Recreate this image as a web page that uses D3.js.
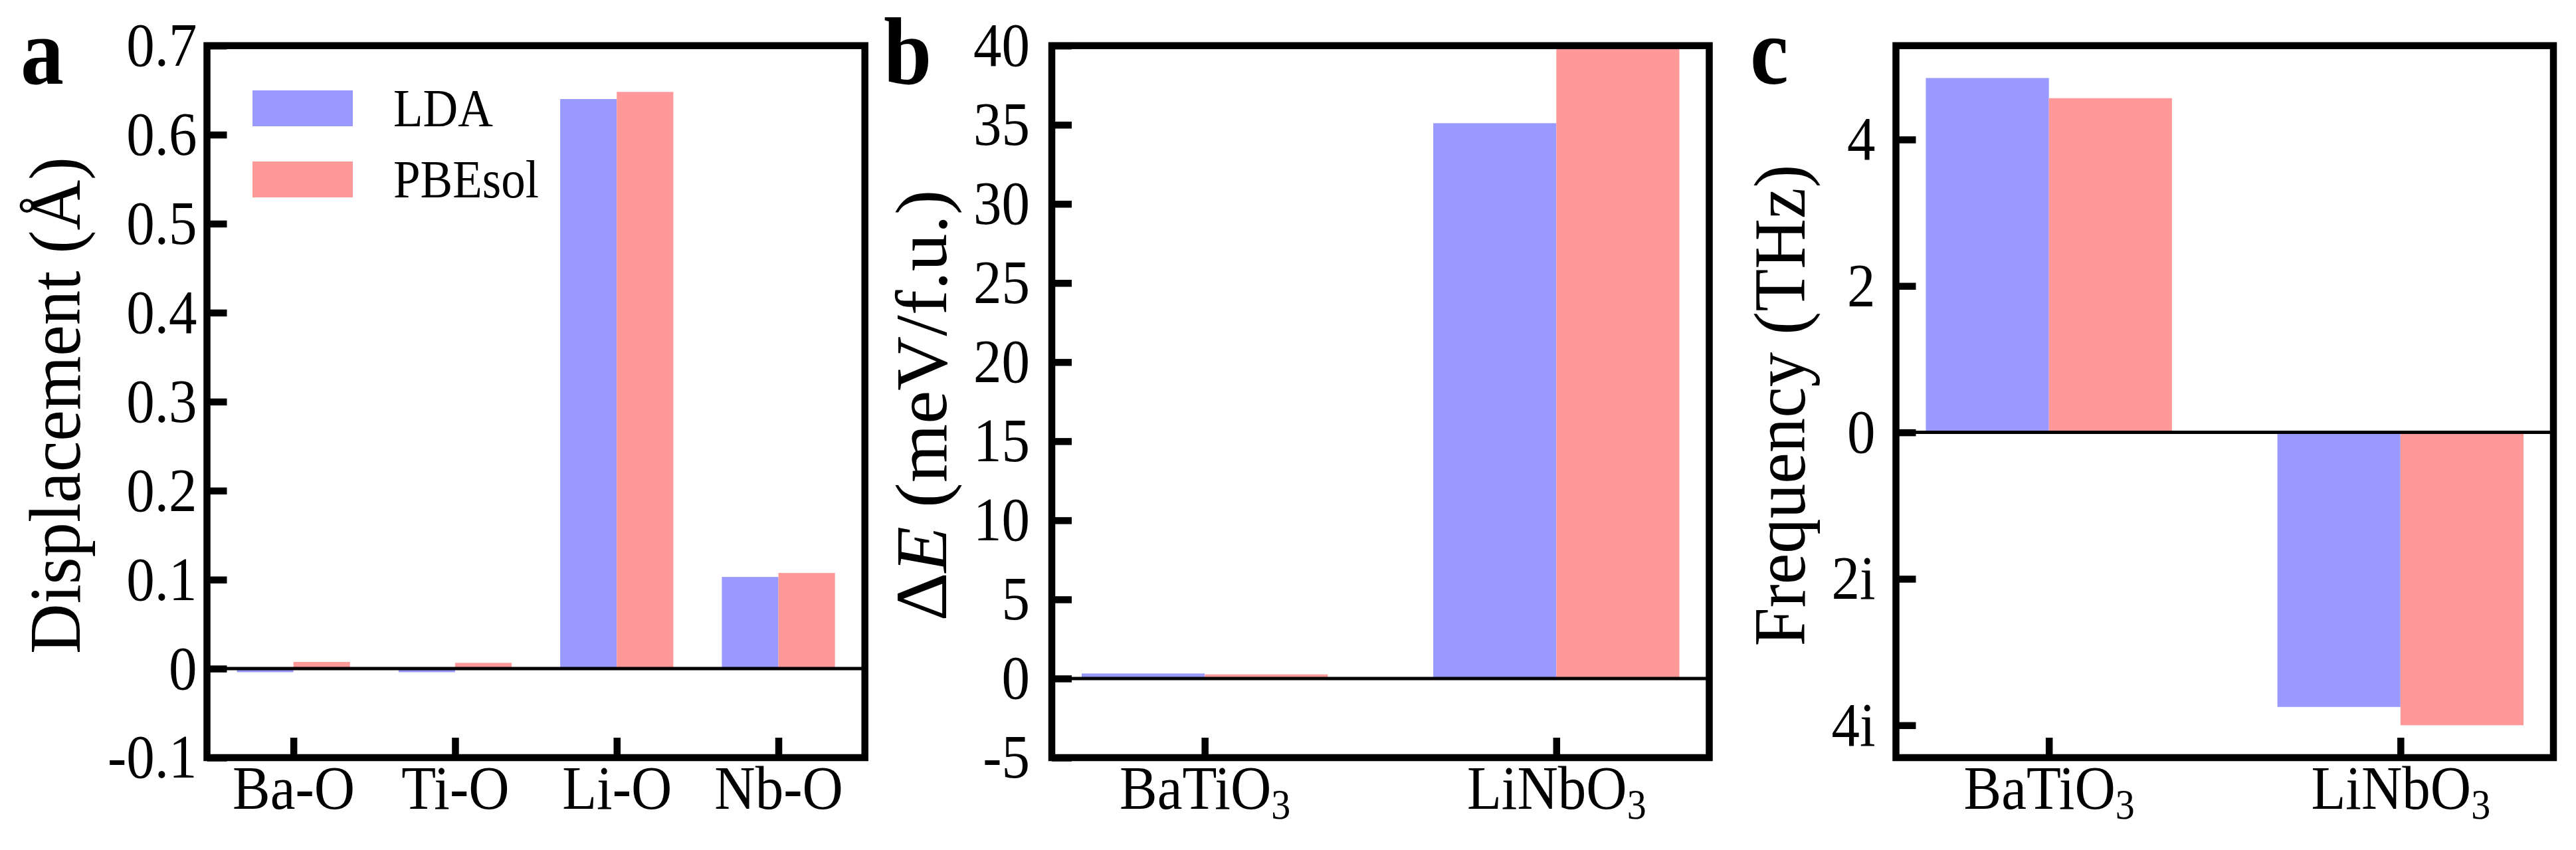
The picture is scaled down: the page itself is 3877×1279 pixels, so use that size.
<!DOCTYPE html>
<html lang="en">
<head>
<meta charset="UTF-8">
<style>
    body { margin: 0; background: #fff; }
    svg { display: block; background: #fff; font-family: "Liberation Serif", "DejaVu Serif", serif; }
    .tick text { font-family: "Liberation Serif", "DejaVu Serif", serif; font-size: 85px; fill: #000; }
    .tick line { stroke: #000; stroke-width: 10.5px; }
    .frame { fill: none; stroke: #000; stroke-width: 10.5px; }
    .zero { stroke: #000; stroke-width: 5px; }
</style>
</head>
<body>
<svg width="3877" height="1279"></svg>
<script src="https://d3js.org/d3.v7.min.js"></script>
<script>

// panel a: bond displacements (Å)
var bondNames = ["Ba-O", "Ti-O", "Li-O", "Nb-O"],
    ldaDisp = [-0.004, -0.004, 0.640, 0.103],
    pbesolDisp = [0.0075, 0.0065, 0.648, 0.1075];

// panels b, c
var compounds = ["BaTiO3", "LiNbO3"],
    ldaEnergy = [0.32, 35.1],
    pbesolEnergy = [0.26, 40.0],
    ldaFreq = [4.84, -3.75],
    pbesolFreq = [4.565, -4.0];

var dispTicks = [-0.1, 0, 0.1, 0.2, 0.3, 0.4, 0.5, 0.6, 0.7],
    dispTickLabels = ["-0.1", "0", "0.1", "0.2", "0.3", "0.4", "0.5", "0.6", "0.7"],
    energyTicks = [-5, 0, 5, 10, 15, 20, 25, 30, 35, 40],
    energyTickLabels = ["-5", "0", "5", "10", "15", "20", "25", "30", "35", "40"],
    freqTicks = [-4, -2, 0, 2, 4],
    freqTickLabels = ["4i", "2i", "0", "2", "4"];

var seriesNames = ["LDA", "PBEsol"],
    seriesColors = ["#9999ff", "#ff9999"];

var SY = 1.1;          // text in the original is a bit taller than wide
var plotTop = 68.7, plotBottom = 1140, barW = 0.35;

function withMargin(vals) {
    var lo = d3.min(vals), hi = d3.max(vals), m = 0.05 * (hi - lo);
    return [lo - m, hi + m];
}

var panels = [
    {letter: "a", letterX: 31, left: 311.5, right: 1301.7, cats: bondNames,
     series: [ldaDisp, pbesolDisp], yDomain: [-0.1, 0.7],
     ticks: dispTicks, tickLabels: dispTickLabels, pad: 15,
     ylabel: [{t: "Displacement (Å)"}], ylabelX: 120, ylabelLen: 748, legend: true},
    {letter: "b", letterX: 1330, left: 1583, right: 2572.5, cats: compounds,
     series: [ldaEnergy, pbesolEnergy], yDomain: [-5, 40],
     ticks: energyTicks, tickLabels: energyTickLabels, pad: 33,
     ylabel: [{t: "Δ"}, {t: "E", it: true}, {t: " (meV/f.u.)"}], ylabelX: 1424, ylabelLen: 649},
    {letter: "c", letterX: 2634, left: 2853.5, right: 3843, cats: compounds,
     series: [ldaFreq, pbesolFreq], yDomain: withMargin(ldaFreq.concat(pbesolFreq, [0])),
     ticks: freqTicks, tickLabels: freqTickLabels, pad: 31,
     ylabel: [{t: "Frequency (THz)"}], ylabelX: 2716, ylabelLen: 725}
];

var svg = d3.select("svg");

panels.forEach(function(p) {
    var n = p.cats.length,
        span = (n - 1) + 2 * barW,
        x = d3.scaleLinear().domain([-barW - 0.05 * span, n - 1 + barW + 0.05 * span]).range([p.left, p.right]),
        y = d3.scaleLinear().domain(p.yDomain).range([plotBottom, plotTop]);

    var g = svg.append("g").attr("class", "panel-" + p.letter);

    // bars
    p.series.forEach(function(vals, s) {
        g.append("g").selectAll("rect")
            .data(vals)
            .enter().append("rect")
            .attr("x", function(d, i) { return x(s === 0 ? i - barW : i); })
            .attr("width", x(barW) - x(0))
            .attr("y", function(d) { return y(Math.max(d, 0)); })
            .attr("height", function(d) { return Math.abs(y(d) - y(0)); })
            .attr("fill", seriesColors[s]);
    });

    g.append("line").attr("class", "zero")
        .attr("x1", p.left).attr("x2", p.right)
        .attr("y1", y(0)).attr("y2", y(0));

    // y axis
    var gy = g.append("g")
        .attr("transform", "translate(" + p.left + ",0)")
        .call(d3.axisLeft(y)
            .tickValues(p.ticks)
            .tickFormat(function(d, i) { return p.tickLabels[i]; })
            .tickSizeInner(-30).tickSizeOuter(0).tickPadding(p.pad));
    gy.select(".domain").remove();
    gy.selectAll(".tick text").attr("transform", "scale(1," + SY + ")");

    // x axis
    var gx = g.append("g")
        .attr("transform", "translate(0," + plotBottom + ")")
        .call(d3.axisBottom(x)
            .tickValues(d3.range(n))
            .tickFormat(function(i) { return p.cats[i]; })
            .tickSizeInner(-30).tickSizeOuter(0));
    gx.select(".domain").remove();
    gx.selectAll(".tick text")
        .attr("y", 77 / SY).attr("dy", 0)
        .attr("transform", "scale(1," + SY + ")")
        .each(function(d) {
            var m = p.cats[d].match(/^(.*?)(\d+)$/);
            if (m) {
                var t = d3.select(this).text(m[1]);
                t.append("tspan").attr("dy", 14).style("font-size", "58px").text(m[2]);
            }
        });

    g.append("rect").attr("class", "frame")
        .attr("x", p.left).attr("y", plotTop)
        .attr("width", p.right - p.left).attr("height", plotBottom - plotTop);

    // y label
    var yl = g.append("text")
        .attr("transform", "translate(" + p.ylabelX + ",610) rotate(-90)")
        .attr("text-anchor", "middle")
        .attr("textLength", p.ylabelLen)
        .attr("lengthAdjust", "spacingAndGlyphs")
        .style("font-size", "110px");
    p.ylabel.forEach(function(part) {
        yl.append("tspan").style("font-style", part.it ? "italic" : "normal").text(part.t);
    });

    // panel letter
    g.append("text")
        .attr("transform", "translate(" + p.letterX + ",126) scale(1," + SY + ")")
        .style("font-size", "130px").style("font-weight", "bold")
        .text(p.letter);

    if (p.legend) {
        var lg = g.append("g").selectAll("g")
            .data(seriesNames)
            .enter().append("g")
            .attr("transform", function(d, i) { return "translate(380," + (136 + i * 107) + ")"; });
        lg.append("rect")
            .attr("width", 151).attr("height", 54)
            .attr("fill", function(d, i) { return seriesColors[i]; });
        lg.append("text")
            .attr("transform", "translate(212,54) scale(1," + SY + ")")
            .style("font-size", "73px")
            .text(function(d) { return d; });
    }
});

</script>
